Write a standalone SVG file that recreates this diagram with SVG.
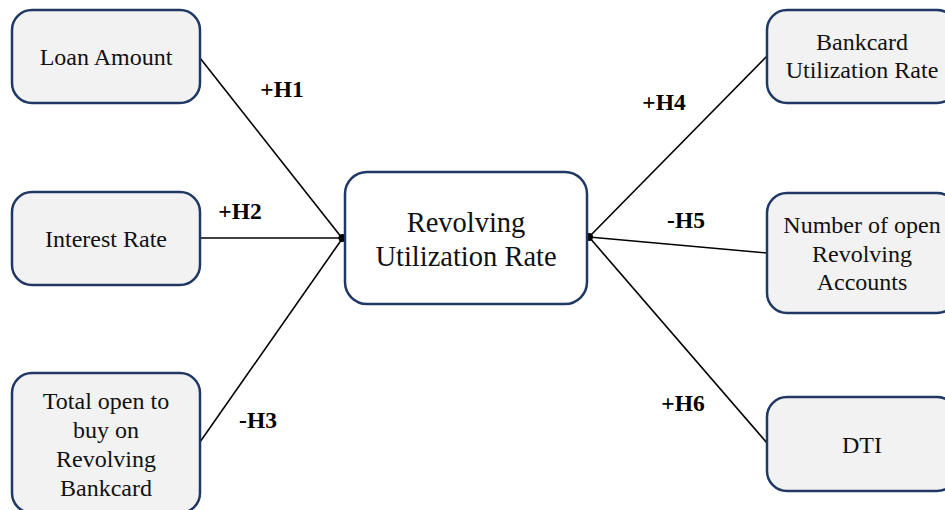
<svg xmlns="http://www.w3.org/2000/svg" width="945" height="510" viewBox="0 0 945 510">
  <style>
    .box { fill: #f2f2f2; stroke: #1f3864; stroke-width: 2.5; }
    .core { fill: #ffffff; stroke: #1f3864; stroke-width: 2.5; }
    .lbl { font-family: "Liberation Serif", "Times New Roman", serif; font-size: 24px; fill: #111; text-anchor: middle; }
    .big { font-family: "Liberation Serif", "Times New Roman", serif; font-size: 28.5px; fill: #111; text-anchor: middle; }
    .hyp { font-family: "Liberation Serif", "Times New Roman", serif; font-size: 23.5px; font-weight: bold; fill: #000; text-anchor: middle; }
    .link { stroke: #000; stroke-width: 1.6; fill: none; }
    .joint { fill: #000; }
  </style>
  <rect width="945" height="510" fill="#ffffff"/>

  <g id="connectors">
    <line class="link" x1="200" y1="58" x2="342" y2="238"/>
    <line class="link" x1="200" y1="238" x2="342" y2="238"/>
    <line class="link" x1="200" y1="442" x2="342" y2="239"/>
    <line class="link" x1="589" y1="237" x2="767" y2="56"/>
    <line class="link" x1="589" y1="237" x2="767" y2="253"/>
    <line class="link" x1="589" y1="237" x2="767" y2="443"/>
    <circle class="joint" cx="342.5" cy="238" r="4"/>
    <circle class="joint" cx="589" cy="237" r="4"/>
    <text class="hyp" x="282" y="97">+H1</text>
    <text class="hyp" x="240" y="219">+H2</text>
    <text class="hyp" x="258" y="428">-H3</text>
    <text class="hyp" x="664" y="110">+H4</text>
    <text class="hyp" x="686" y="228">-H5</text>
    <text class="hyp" x="683" y="411">+H6</text>
  </g>

  <g id="loan-amount">
    <rect class="box" x="12" y="10" width="188" height="93" rx="20"/>
    <text class="lbl" x="106" y="65">Loan Amount</text>
  </g>

  <g id="interest-rate">
    <rect class="box" x="12" y="192" width="188" height="93" rx="20"/>
    <text class="lbl" x="106" y="247">Interest Rate</text>
  </g>

  <g id="total-open-to-buy">
    <rect class="box" x="12" y="373" width="188" height="140" rx="20"/>
    <text class="lbl" x="106" y="409">Total open to</text>
    <text class="lbl" x="106" y="438">buy on</text>
    <text class="lbl" x="106" y="467">Revolving</text>
    <text class="lbl" x="106" y="496">Bankcard</text>
  </g>

  <g id="revolving-utilization">
    <rect class="core" x="345" y="172" width="242" height="132" rx="22"/>
    <text class="big" x="466" y="232">Revolving</text>
    <text class="big" x="466" y="266">Utilization Rate</text>
  </g>

  <g id="bankcard-utilization">
    <rect class="box" x="767" y="10" width="190" height="93" rx="20"/>
    <text class="lbl" x="862" y="50">Bankcard</text>
    <text class="lbl" x="862" y="78">Utilization Rate</text>
  </g>

  <g id="open-revolving-accounts">
    <rect class="box" x="767" y="193" width="190" height="120" rx="20"/>
    <text class="lbl" x="862" y="233">Number of open</text>
    <text class="lbl" x="862" y="262">Revolving</text>
    <text class="lbl" x="862" y="290">Accounts</text>
  </g>

  <g id="dti">
    <rect class="box" x="767" y="397" width="190" height="94" rx="20"/>
    <text class="lbl" x="862" y="453">DTI</text>
  </g>
</svg>
